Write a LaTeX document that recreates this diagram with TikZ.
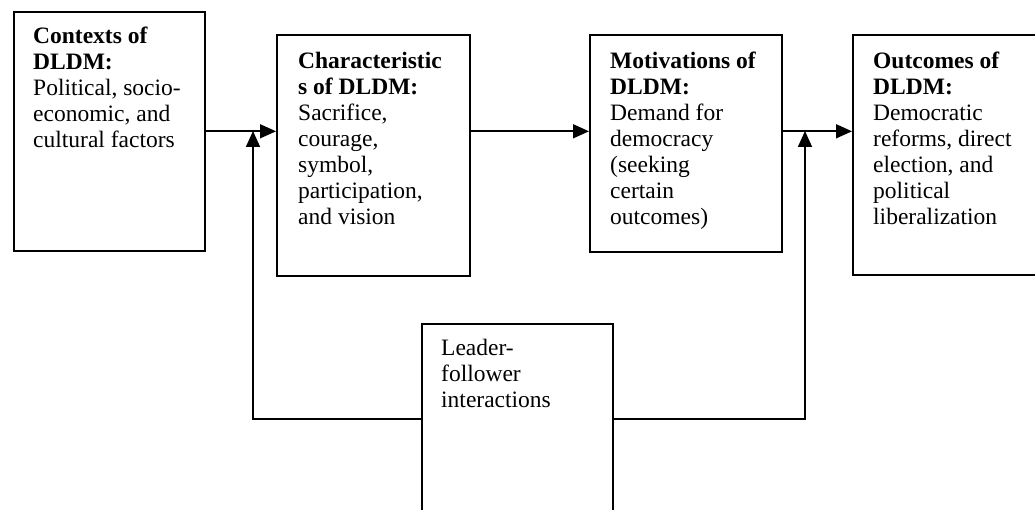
\documentclass[tikz,border=0pt]{standalone}
\usepackage{fontspec}
\setmainfont{Liberation Serif}
\usetikzlibrary{arrows.meta}
\begin{document}
\begin{tikzpicture}[x=1pt,y=-1pt,
  box/.style={draw, line width=1.6pt, inner sep=0pt, anchor=north west},
  txt/.style={anchor=north west, inner sep=0pt, align=left,
              font=\fontsize{23.5}{26}\selectfont},
  conn/.style={line width=1.6pt},
  arr/.style={conn, -{Triangle[length=16pt,width=14pt]}}]
\useasboundingbox (0,0) rectangle (1035,510);
\begin{scope}
\clip (0,0) rectangle (1035,510);
% boxes
\node[box, minimum width=191pt, minimum height=239pt] (b1) at (13,11) {};
\node[box, minimum width=193pt, minimum height=241pt] (b2) at (276,34) {};
\node[box, minimum width=192pt, minimum height=217pt] (b3) at (589,34) {};
\node[box, minimum width=200pt, minimum height=240pt] (b4) at (852,34) {};
\node[box, minimum width=191pt, minimum height=190pt] (b5) at (421,323) {};
% texts
\node[txt] (t1) at (33,24.8) {\strut\textbf{Contexts of}\\\textbf{DLDM:}\\Political, socio-\\economic, and\\cultural factors};
\node[txt] (t2) at (298,49.8) {\strut\textbf{Characteristic}\\\textbf{s of DLDM:}\\Sacrifice,\\courage,\\symbol,\\participation,\\and vision};
\node[txt] (t3) at (610,49.8) {\strut\textbf{Motivations of}\\\textbf{DLDM:}\\Demand for\\democracy\\(seeking\\certain\\outcomes)};
\node[txt] (t4) at (873,49.8) {\strut\textbf{Outcomes of}\\\textbf{DLDM:}\\Democratic\\reforms, direct\\election, and\\political\\liberalization};
\node[txt] (t5) at (441,337.3) {\strut Leader-\\follower\\interactions};
% connectors
\coordinate (jl) at (253,131);
\coordinate (jr) at (805,131);
\draw[arr] (b1.east) -- (b1.east -| b2.west);
\draw[arr] (b2.east |- b1.east) -- (b3.west |- b1.east);
\draw[arr] (b3.east |- b1.east) -- (b4.west |- b1.east);
\draw[arr] (b5.west) -| (jl);
\draw[arr] (b5.east) -| (jr);
\end{scope}
\end{tikzpicture}
\end{document}
